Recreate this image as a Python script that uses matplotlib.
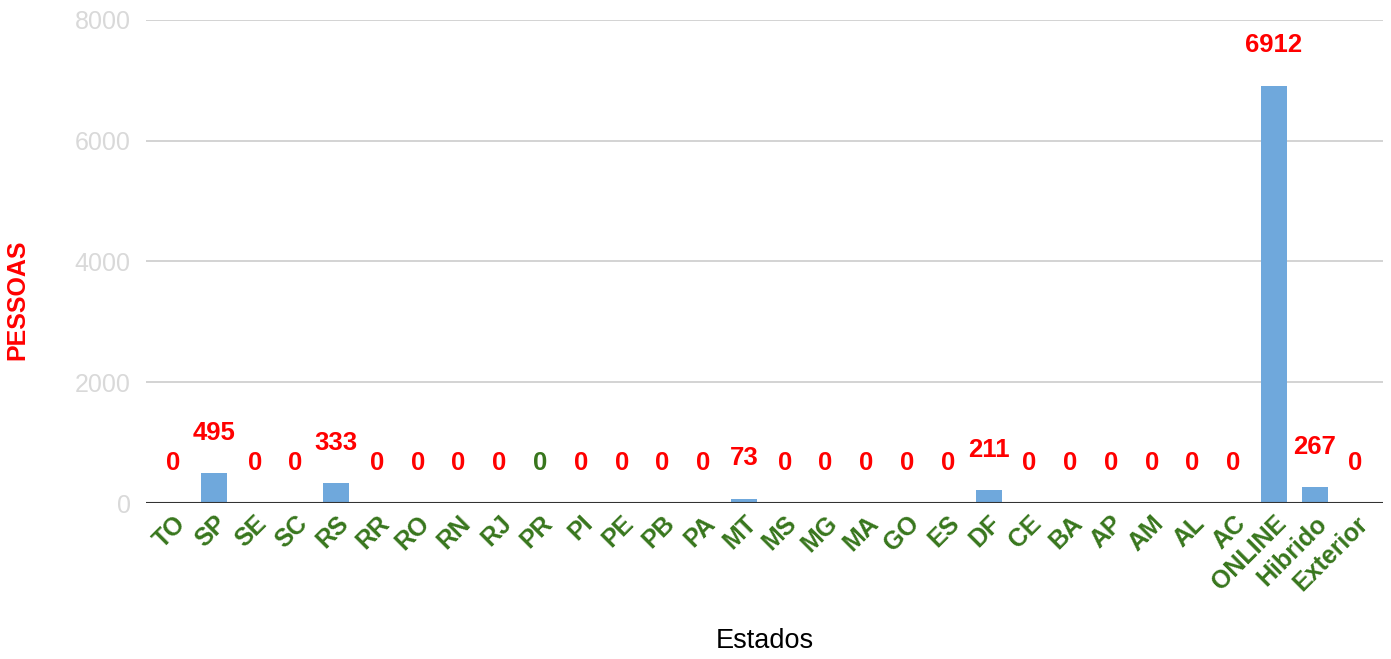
import matplotlib.pyplot as plt

plt.rcParams['font.family'] = ['Liberation Sans', 'DejaVu Sans']

# data
estados = ['TO', 'SP', 'SE', 'SC', 'RS', 'RR', 'RO', 'RN', 'RJ', 'PR', 'PI', 'PE',
           'PB', 'PA', 'MT', 'MS', 'MG', 'MA', 'GO', 'ES', 'DF', 'CE', 'BA', 'AP',
           'AM', 'AL', 'AC', 'ONLINE', 'Hibrido', 'Exterior']
pessoas = [0, 495, 0, 0, 333, 0, 0, 0, 0, 0, 0, 0,
           0, 0, 73, 0, 0, 0, 0, 0, 211, 0, 0, 0,
           0, 0, 0, 6912, 267, 0]
label_cores = ['#ff0000'] * len(estados)
label_cores[estados.index('PR')] = '#38761d'

verde = '#38761d'

fig = plt.figure(figsize=(13.91, 6.59), dpi=100)
ax = fig.add_axes([0.105, 0.2367, 0.889, 0.733])

x = range(len(estados))
ax.bar(x, pessoas, width=0.64, color='#6fa8dc', zorder=3)

# data labels above bars
for i, v in enumerate(pessoas):
    ax.annotate(str(v), (i, v), xytext=(0, 29), textcoords='offset points',
                ha='center', va='center', fontsize=18.5, fontweight='bold',
                color=label_cores[i])

# gridlines run a bit past the outer bars
ax.set_xlim(-0.667, len(estados) - 0.333)
ax.set_ylim(0, 8000)
ax.set_yticks([0, 2000, 4000, 6000, 8000])
ax.grid(axis='y', color='#cccccc', linewidth=1.2, zorder=0)
ax.axhline(0, color='#333333', linewidth=1.5, zorder=4)

ax.set_xticks(list(x))
ax.set_xticklabels(estados, rotation=45, ha='right', va='top',
                   rotation_mode='anchor', fontsize=18, fontweight='bold', color=verde)
ax.tick_params(axis='x', length=0, pad=6)
ax.tick_params(axis='y', length=0, pad=11, labelsize=18, labelcolor='#d9d9d9')

for s in ax.spines.values():
    s.set_visible(False)

ax.set_ylabel('PESSOAS', color='#ff0000', fontsize=18, fontweight='bold')
ax.yaxis.set_label_coords(-0.0946, 0.42)
ax.set_xlabel('Estados', fontsize=19.5, color='#000000')
ax.xaxis.set_label_coords(0.5, -0.259)

fig.savefig('out.png', dpi=100)
